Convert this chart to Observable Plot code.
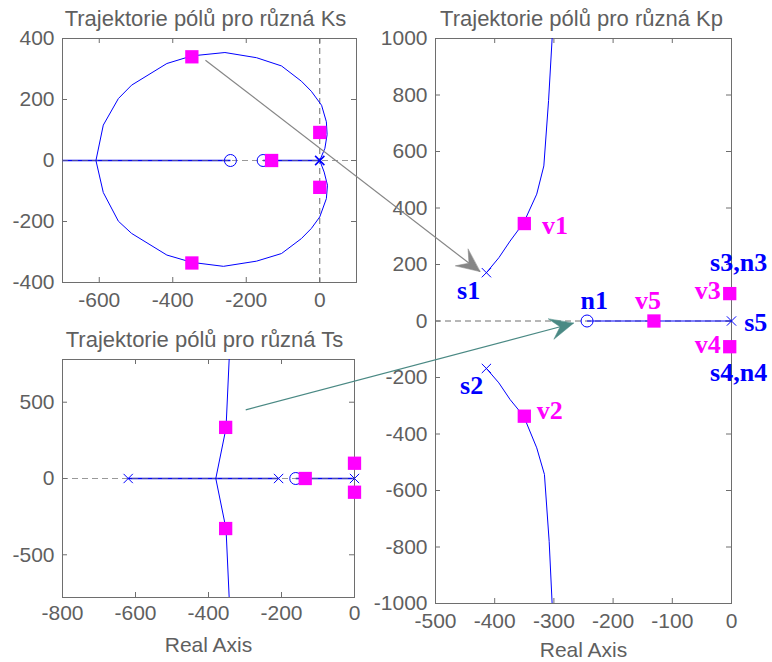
<!DOCTYPE html>
<html><head><meta charset="utf-8">
<script src="https://cdn.jsdelivr.net/npm/d3@7"></script>
<script src="https://cdn.jsdelivr.net/npm/@observablehq/plot@0.6"></script>
<style>
body{margin:0;background:#fff;}
#chart{position:relative;width:772px;height:662px;overflow:hidden;}
#chart svg{position:absolute;left:0;top:0;background:transparent;}
</style></head><body><div id="chart"></div>
<script>
const W = 772, H = 662;
const BLUE = "#0000ff", MAG = "#ff00ff", TXT = "#5f5f5f", AXIS = "#6e6e6e", GRID = "#6e6e6e";

// ---------- Panel A: Trajektorie pólů pro různá Ks ----------
const ksTitle = "Trajektorie pólů pro různá Ks";
const ksXTicks = [-600, -400, -200, 0];
const ksYTicks = [-400, -200, 0, 200, 400];
const ksLocusRe = [0,14,20,18,5,-23,-50,-104,-172,-258,-348,-416,-512,-548,-589,-609,-589,-548,-512,-416,-348,-262,-172,-104,-50,-23,0,18,21,12,0];
const ksLocusIm = [0,40,85,127,181,227,260,310,337,354,343,318,247,203,116,0,-105,-199,-239,-310,-334,-347,-330,-305,-256,-223,-185,-125,-81,-38,0];
const ksAxisFrom = [-700, -154];
const ksAxisTo = [-243, 0];
const ksPolesRe = [0];
const ksPolesIm = [0];
const ksZerosRe = [-243, -154];
const ksMarkRe = [-348, -348, 0, 0, -131];
const ksMarkIm = [340, -336, 92, -88, 0];

// ---------- Panel B: Trajektorie pólů pro různá Ts ----------
const tsTitle = "Trajektorie pólů pro různá Ts";
const tsXTicks = [-800, -600, -400, -200, 0];
const tsYTicks = [-500, 0, 500];
const tsAxisFrom = [-620, -161];
const tsAxisTo = [-208, 0];
const tsUpperRe = [-380, -352, -343];
const tsUpperIm = [0, 330, 800];
const tsLowerRe = [-380, -352, -343];
const tsLowerIm = [0, -330, -800];
const tsPolesRe = [-620, -208, 0];
const tsZerosRe = [-161];
const tsMarkRe = [-353, -353, -135, 0, 0];
const tsMarkIm = [335, -328, 0, 100, -90];

// ---------- Panel C: Trajektorie pólů pro různá Kp ----------
const kpTitle = "Trajektorie pólů pro různá Kp";
const kpXTicks = [-500, -400, -300, -200, -100, 0];
const kpYTicks = [-1000, -800, -600, -400, -200, 0, 200, 400, 600, 800, 1000];
const kpUpperRe = [-414, -393, -374, -351, -329, -317, -309, -303];
const kpUpperIm = [171, 224, 283, 348, 449, 549, 780, 1000];
const kpLowerRe = [-414, -393, -374, -351, -329, -316, -308, -303];
const kpLowerIm = [-168, -219, -278, -337, -449, -543, -780, -1000];
const kpAxisFrom = [-244];
const kpAxisTo = [0];
const kpPolesRe = [-414, -414, 0];
const kpPolesIm = [171, -168, 0];
const kpZerosRe = [-244];
const kpMarkRe = [-350, -350, -3, -3, -131];
const kpMarkIm = [345, -337, 97, -91, 0];
const kpLabelText = ["s1", "s2", "s3,n3", "s4,n4", "s5", "n1", "v1", "v2", "v3", "v4", "v5"];
const kpLabelRe = [-444, -439, 12, 12, 41, -232, -298, -307, -40, -40, -141];
const kpLabelIm = [106, -230, 207, -183, -6, 71, 337, -319, 106, -83, 71];
const kpLabelKind = ["pole", "pole", "pole", "pole", "pole", "pole", "value", "value", "value", "value", "value"];

const xLabel = "Real Axis";

// ---------- Arrows between panels ----------
const arrowFromPanel = ["A", "B"];
const arrowFromRe = [-311, -298];
const arrowFromIm = [329, 450];
const arrowToRe = [-425, -267];   // in panel C coordinates
const arrowToIm = [175, -8];
const arrowColor = ["#868686", "#4a8984"];

// ---------- helpers ----------
const zip = (a, b) => a.map((v, i) => ({re: v, im: b[i]}));
const segs = (from, to) => from.map((v, i) => ({x1: v, x2: to[i]}));

function panel({frame, xDomain, yDomain, xTicks, yTicks, title, titleDx, titleDy, xPad, withXLabel, xLabelDy, marks}) {
  const [l, r, t, b] = frame;
  const fw = r - l, fh = b - t;
  return Plot.plot({
    width: W, height: H,
    marginLeft: l, marginRight: W - r, marginTop: t, marginBottom: H - b,
    x: {domain: xDomain},
    y: {domain: yDomain},
    style: {fontFamily: "'Liberation Sans', Arial, Helvetica, sans-serif", fontSize: "21px", color: TXT, background: "transparent", overflow: "visible"},
    marks: [
      Plot.frame({stroke: AXIS, strokeWidth: 1}),
      Plot.tickX(xTicks, {x: d => d, insetTop: fh - 5, stroke: AXIS}),
      Plot.tickX(xTicks, {x: d => d, insetBottom: fh - 5, stroke: AXIS}),
      Plot.tickY(yTicks, {y: d => d, insetRight: fw - 5, stroke: AXIS}),
      Plot.tickY(yTicks, {y: d => d, insetLeft: fw - 5, stroke: AXIS}),
      Plot.axisX({ticks: xTicks, tickSize: 0, tickPadding: xPad, tickFormat: d => String(d), label: null, fill: TXT, fontSize: 21}),
      Plot.axisY({ticks: yTicks, tickSize: 0, tickPadding: 8, tickFormat: d => String(d), label: null, fill: TXT, fontSize: 21}),
      Plot.text([title], {text: d => d, frameAnchor: "top", lineAnchor: "middle", dx: titleDx, dy: titleDy, fill: TXT, fontSize: 22}),
      withXLabel ? Plot.text([xLabel], {text: d => d, frameAnchor: "bottom", lineAnchor: "middle", dy: xLabelDy, fill: TXT, fontSize: 21}) : null,
      ...marks
    ]
  });
}

const dash = "6,4";
const squares = (re, im) => Plot.dot(zip(re, im), {x: "re", y: "im", symbol: "square", r: 7.5, fill: MAG, stroke: null});
const crosses = (re, im, sw = 1) => Plot.dot(zip(re, im), {x: "re", y: "im", symbol: "times", r: 4.3, stroke: BLUE, strokeWidth: sw});
const circles = (re) => Plot.dot(re.map(v => ({re: v, im: 0})), {x: "re", y: "im", r: 6, stroke: BLUE, fill: "none", strokeWidth: 1});
const axisLine = (from, to, sw) => Plot.link(segs(from, to), {x1: "x1", x2: "x2", y1: () => 0, y2: () => 0, stroke: BLUE, strokeWidth: sw, clip: true});

const chart = document.getElementById("chart");

const A = panel({
  frame: [62, 356, 38, 282], xDomain: [-700, 100], yDomain: [-400, 400],
  xTicks: ksXTicks, yTicks: ksYTicks, title: ksTitle, titleDx: -4, titleDy: -20, xPad: 10, withXLabel: false,
  marks: [
    axisLine(ksAxisFrom, ksAxisTo, 1.6),
    Plot.ruleY([0], {stroke: GRID, strokeDasharray: dash, strokeOpacity: 0.7}),
    Plot.ruleX([0], {stroke: GRID, strokeDasharray: dash}),
    Plot.line(zip(ksLocusRe, ksLocusIm), {x: "re", y: "im", stroke: BLUE, strokeWidth: 1, clip: true}),
    circles(ksZerosRe),
    crosses(ksPolesRe, ksPolesIm, 1.6),
    squares(ksMarkRe, ksMarkIm)
  ]
});

const B = panel({
  frame: [62, 354, 359, 597], xDomain: [-800, 0], yDomain: [-780, 780],
  xTicks: tsXTicks, yTicks: tsYTicks, title: tsTitle, titleDx: -4, titleDy: -20, xPad: 8, withXLabel: true, xLabelDy: 48,
  marks: [
    axisLine(tsAxisFrom, tsAxisTo, 1.4),
    Plot.ruleY([0], {stroke: GRID, strokeDasharray: dash, strokeOpacity: 0.7}),
    Plot.line(zip(tsUpperRe, tsUpperIm), {x: "re", y: "im", stroke: BLUE, strokeWidth: 1, clip: true}),
    Plot.line(zip(tsLowerRe, tsLowerIm), {x: "re", y: "im", stroke: BLUE, strokeWidth: 1, clip: true}),
    circles(tsZerosRe),
    crosses(tsPolesRe, tsPolesRe.map(() => 0)),
    squares(tsMarkRe, tsMarkIm)
  ]
});

const C = panel({
  frame: [435, 731, 38, 603], xDomain: [-500, 0], yDomain: [-1000, 1000],
  xTicks: kpXTicks, yTicks: kpYTicks, title: kpTitle, titleDx: -2, titleDy: -20, xPad: 10, withXLabel: true, xLabelDy: 47,
  marks: [
    Plot.ruleY([0], {stroke: GRID, strokeDasharray: dash}),
    axisLine(kpAxisFrom, kpAxisTo, 1),
    Plot.line(zip(kpUpperRe, kpUpperIm), {x: "re", y: "im", stroke: BLUE, strokeWidth: 1, clip: true}),
    Plot.line(zip(kpLowerRe, kpLowerIm), {x: "re", y: "im", stroke: BLUE, strokeWidth: 1, clip: true}),
    circles(kpZerosRe),
    crosses(kpPolesRe, kpPolesIm),
    squares(kpMarkRe, kpMarkIm),
    Plot.text(kpLabelText.map((t, i) => ({t, re: kpLabelRe[i], im: kpLabelIm[i], kind: kpLabelKind[i]})), {
      x: "re", y: "im", text: "t",
      fill: d => d.kind === "pole" ? BLUE : MAG,
      fontFamily: "'Liberation Serif', 'Times New Roman', serif", fontWeight: "bold", fontSize: 26
    })
  ]
});

chart.append(A, B, C);

// ---------- overlay with annotation arrows (pixel positions from the panels' scales) ----------
const panels = {A, B, C};
const arrows = arrowFromPanel.map((p, i) => {
  const src = panels[p];
  const x1 = src.scale("x").apply(arrowFromRe[i]);
  const y1 = src.scale("y").apply(arrowFromIm[i]);
  const x2 = C.scale("x").apply(arrowToRe[i]);
  const y2 = C.scale("y").apply(arrowToIm[i]);
  const angle = Math.atan2(x2 - x1, -(y2 - y1)) * 180 / Math.PI;
  return {x1, y1, x2, y2, angle, color: arrowColor[i]};
});

const headShape = {
  draw(context, l) {
    const hw = 10.5;
    context.moveTo(0, -l);
    context.lineTo(hw, 0);
    context.lineTo(0, -0.4 * l);
    context.lineTo(-hw, 0);
    context.closePath();
  }
};

const overlayMarks = [];
arrows.forEach(a => {
  overlayMarks.push(Plot.link([a], {x1: "x1", y1: "y1", x2: "x2", y2: "y2", stroke: a.color, strokeWidth: 1.2}));
  overlayMarks.push(Plot.vector([a], {x: "x2", y: "y2", length: 23, rotate: a.angle, anchor: "end", shape: headShape, fill: a.color, stroke: a.color, strokeWidth: 0.5}));
});

const O = Plot.plot({
  width: W, height: H, margin: 0,
  x: {type: "identity", axis: null}, y: {type: "identity", axis: null},
  style: {background: "transparent", overflow: "visible"},
  marks: overlayMarks
});
chart.append(O);
</script>
</body></html>
